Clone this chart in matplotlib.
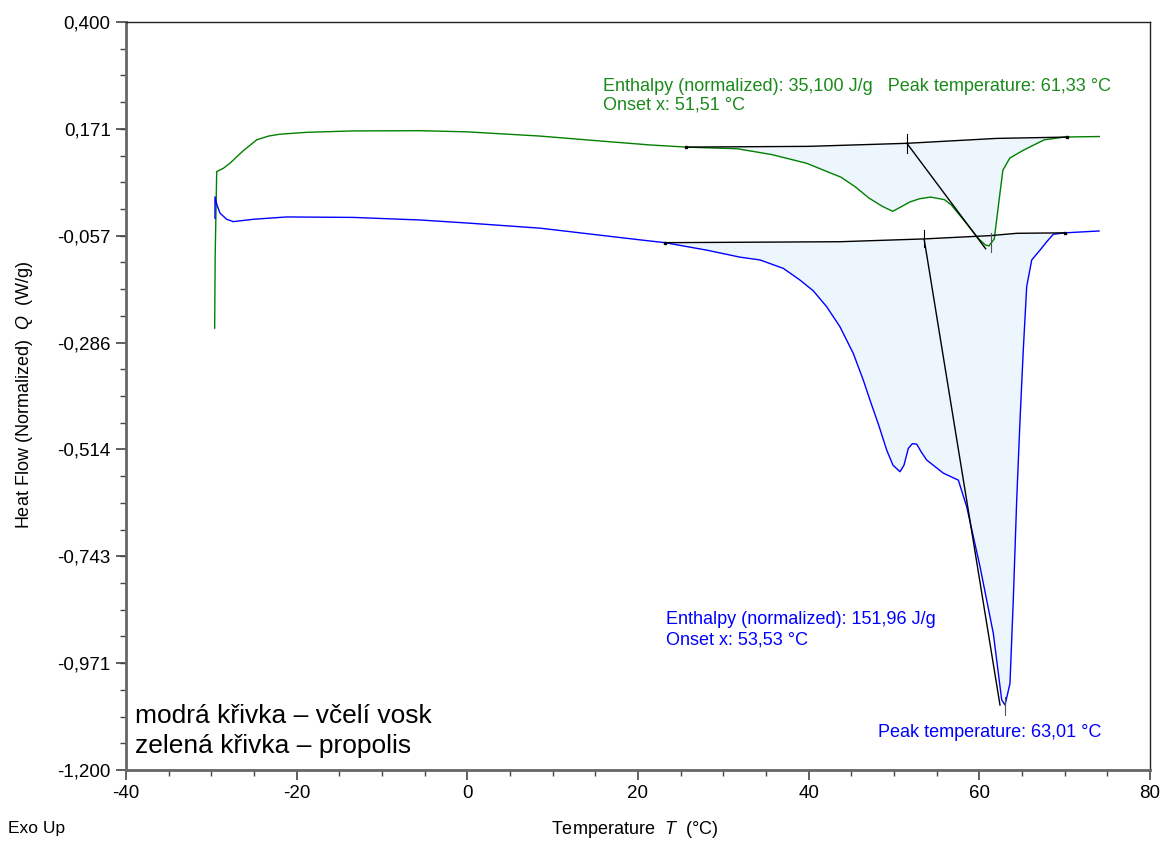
import numpy as np
import matplotlib
matplotlib.use("Agg")
import matplotlib.pyplot as plt
from matplotlib.ticker import MultipleLocator, FixedLocator

plt.rcParams['font.family'] = ['Liberation Sans', 'DejaVu Sans']
plt.rcParams['mathtext.fontset'] = 'custom'
plt.rcParams['mathtext.it'] = 'Liberation Sans:italic'
plt.rcParams['mathtext.rm'] = 'Liberation Sans'

# propolis (green curve)
green_T = [-29.61, -29.55, -29.37, -28.6, -27.81, -26.3, -24.68, -23.3, -21.95, -18.82,
           -13.40, -5.55, 0.0, 8.52, 15.55, 21.41, 25.64, 31.68, 35.73, 39.76,
           43.79, 45.5, 47.02, 48.6, 49.85, 50.66, 51.86, 53.0, 54.29, 55.91,
           56.70, 58.32, 59.94, 60.7, 61.13, 61.75, 62.35, 62.76, 63.57, 65.19,
           67.60, 70.03, 74.06]
green_Q = [-0.255, -0.10, 0.080, 0.087, 0.098, 0.124, 0.148, 0.156, 0.160, 0.164,
           0.167, 0.1675, 0.165, 0.156, 0.1455, 0.137, 0.1324, 0.1288, 0.1162, 0.0978,
           0.068, 0.047, 0.024, 0.006, -0.005, 0.003, 0.015, 0.022, 0.0255, 0.020,
           0.009, -0.027, -0.064, -0.077, -0.079, -0.064, 0.024, 0.083, 0.109, 0.126,
           0.148, 0.154, 0.155]

# beeswax (blue curve)
blue_T = [-29.57, -29.57, -29.34, -28.98, -28.20, -27.43, -25.08, -21.17, -13.36, -5.55,
          0.0, 8.52, 15.55, 20.23, 23.16, 28.05, 31.95, 34.30, 37.03, 38.98,
          40.54, 42.11, 43.67, 45.23, 46.40, 47.19, 48.2, 49.15, 49.88, 50.70,
          51.17, 51.68, 52.15, 52.66, 53.20, 53.83, 55.78, 57.54, 58.52, 60.08,
          61.64, 62.62, 63.01, 63.59, 63.98, 64.38, 64.77, 65.15, 65.55, 66.14,
          67.11, 67.90, 68.67, 70.04, 74.03]
blue_Q = [-0.020, 0.026, 0.0086, -0.009, -0.022, -0.027, -0.022, -0.017, -0.018, -0.0235,
          -0.030, -0.041, -0.056, -0.066, -0.072, -0.088, -0.103, -0.109, -0.127, -0.152,
          -0.175, -0.209, -0.252, -0.309, -0.366, -0.409, -0.462, -0.516, -0.548, -0.562,
          -0.548, -0.512, -0.502, -0.503, -0.520, -0.537, -0.565, -0.580, -0.637, -0.765,
          -0.908, -1.050, -1.061, -1.015, -0.836, -0.622, -0.451, -0.302, -0.166, -0.109,
          -0.088, -0.070, -0.054, -0.051, -0.047]

# integration baselines
green_base_T = [25.64, 40.0, 51.51, 62.0, 70.23]
green_base_Q = [0.1324, 0.134, 0.1405, 0.151, 0.1538]
blue_base_T = [23.16, 43.67, 53.53, 61.25, 64.38, 70.04]
blue_base_Q = [-0.072, -0.070, -0.064, -0.057, -0.052, -0.051]

# onset / peak markers
green_onset = (51.51, 0.1405)
green_peak = (60.74, -0.085)
blue_onset = (53.53, -0.064)
blue_peak = (62.42, -1.061)

yticks = [0.400, 0.1714, -0.0571, -0.2857, -0.5143, -0.7429, -0.9714, -1.200]
ytick_labels = ['0,400', '0,171', '-0,057', '-0,286', '-0,514', '-0,743', '-0,971', '-1,200']
xticks = [-40, -20, 0, 20, 40, 60, 80]

fig = plt.figure(figsize=(11.63, 8.41), dpi=100)
ax = fig.add_axes([126 / 1163, 1 - 770 / 841, 1024 / 1163, 748 / 841])

fill_col = '#edf5fd'
for T, Q, bT, bQ in [(green_T, green_Q, green_base_T, green_base_Q),
                     (blue_T, blue_Q, blue_base_T, blue_base_Q)]:
    t = np.linspace(bT[0], bT[-1], 600)
    curve = np.interp(t, T, Q)
    base = np.interp(t, bT, bQ)
    ax.fill_between(t, curve, base, color=fill_col, lw=0)

ax.plot(green_T, green_Q, color='#008000', lw=1.0)
ax.plot(blue_T, blue_Q, color='#0000ff', lw=1.0)

for bT, bQ in [(green_base_T, green_base_Q), (blue_base_T, blue_base_Q)]:
    ax.plot(bT, bQ, color='black', lw=1.0)
    ax.plot([bT[0], bT[-1]], [bQ[0], bQ[-1]], 's', color='black', ms=1.5)

# tangent lines and tick marks
ax.plot([green_onset[0], green_peak[0]], [green_onset[1], green_peak[1]], color='black', lw=1.0)
ax.plot([blue_onset[0], blue_peak[0]], [blue_onset[1], blue_peak[1]], color='black', lw=1.0)
ax.plot([51.51, 51.51], [0.160, 0.120], color='black', lw=0.8)
ax.plot([61.33, 61.33], [-0.052, -0.093], color='#555555', lw=0.8)
ax.plot([53.53, 53.53], [-0.045, -0.082], color='black', lw=0.8)
ax.plot([63.01, 63.01], [-1.043, -1.082], color='#555555', lw=0.8)

ax.set_xlim(-40, 80)
ax.set_ylim(-1.2, 0.4)
ax.set_xticks(xticks)
ax.set_xticklabels([str(v) for v in xticks])
ax.xaxis.set_minor_locator(MultipleLocator(5))
ax.yaxis.set_major_locator(FixedLocator(yticks))
ax.set_yticklabels(ytick_labels)
ax.yaxis.set_minor_locator(FixedLocator(np.linspace(0.4, -1.2, 29)))
ax.tick_params(which='both', direction='out', colors='#444444', labelcolor='black',
               labelsize=13.5, top=False, right=False)
ax.tick_params(which='major', length=7, width=1.2, pad=4)
ax.tick_params(which='minor', length=4, width=1.0)
for side in ['left', 'bottom']:
    ax.spines[side].set_color('#666666')
    ax.spines[side].set_linewidth(2.0)
for side in ['top', 'right']:
    ax.spines[side].set_color('#222222')
    ax.spines[side].set_linewidth(1.0)

# annotations
ax.text(15.9, 0.261, 'Enthalpy (normalized): 35,100 J/g   Peak temperature: 61,33 °C',
        color='#1a8a1a', fontsize=13, va='center')
ax.text(15.9, 0.2225, 'Onset x: 51,51 °C', color='#1a8a1a', fontsize=13, va='center')
ax.text(23.3, -0.879, 'Enthalpy (normalized): 151,96 J/g', color='#0000ff', fontsize=13, va='center')
ax.text(23.3, -0.922, 'Onset x: 53,53 °C', color='#0000ff', fontsize=13, va='center')
ax.text(48.1, -1.119, 'Peak temperature: 63,01 °C', color='#0000ff', fontsize=13, va='center')

ax.text(-38.9, -1.0845, 'modrá křivka – včelí vosk', fontsize=19, va='center')
ax.text(-38.9, -1.1486, 'zelená křivka – propolis', fontsize=19, va='center')

fig.text(25 / 1163, 1 - 395 / 841, r'Heat Flow (Normalized)  $\mathit{Q}$  (W/g)',
         rotation=90, ha='center', va='center', fontsize=13)
fig.text(635 / 1163, 1 - 830 / 841, r'Temperature  $\mathit{T}$  (°C)',
         ha='center', va='center', fontsize=13)
fig.text(8 / 1163, 1 - 829 / 841, 'Exo Up', ha='left', va='center', fontsize=12.5)

fig.savefig('out.png', dpi=100)
